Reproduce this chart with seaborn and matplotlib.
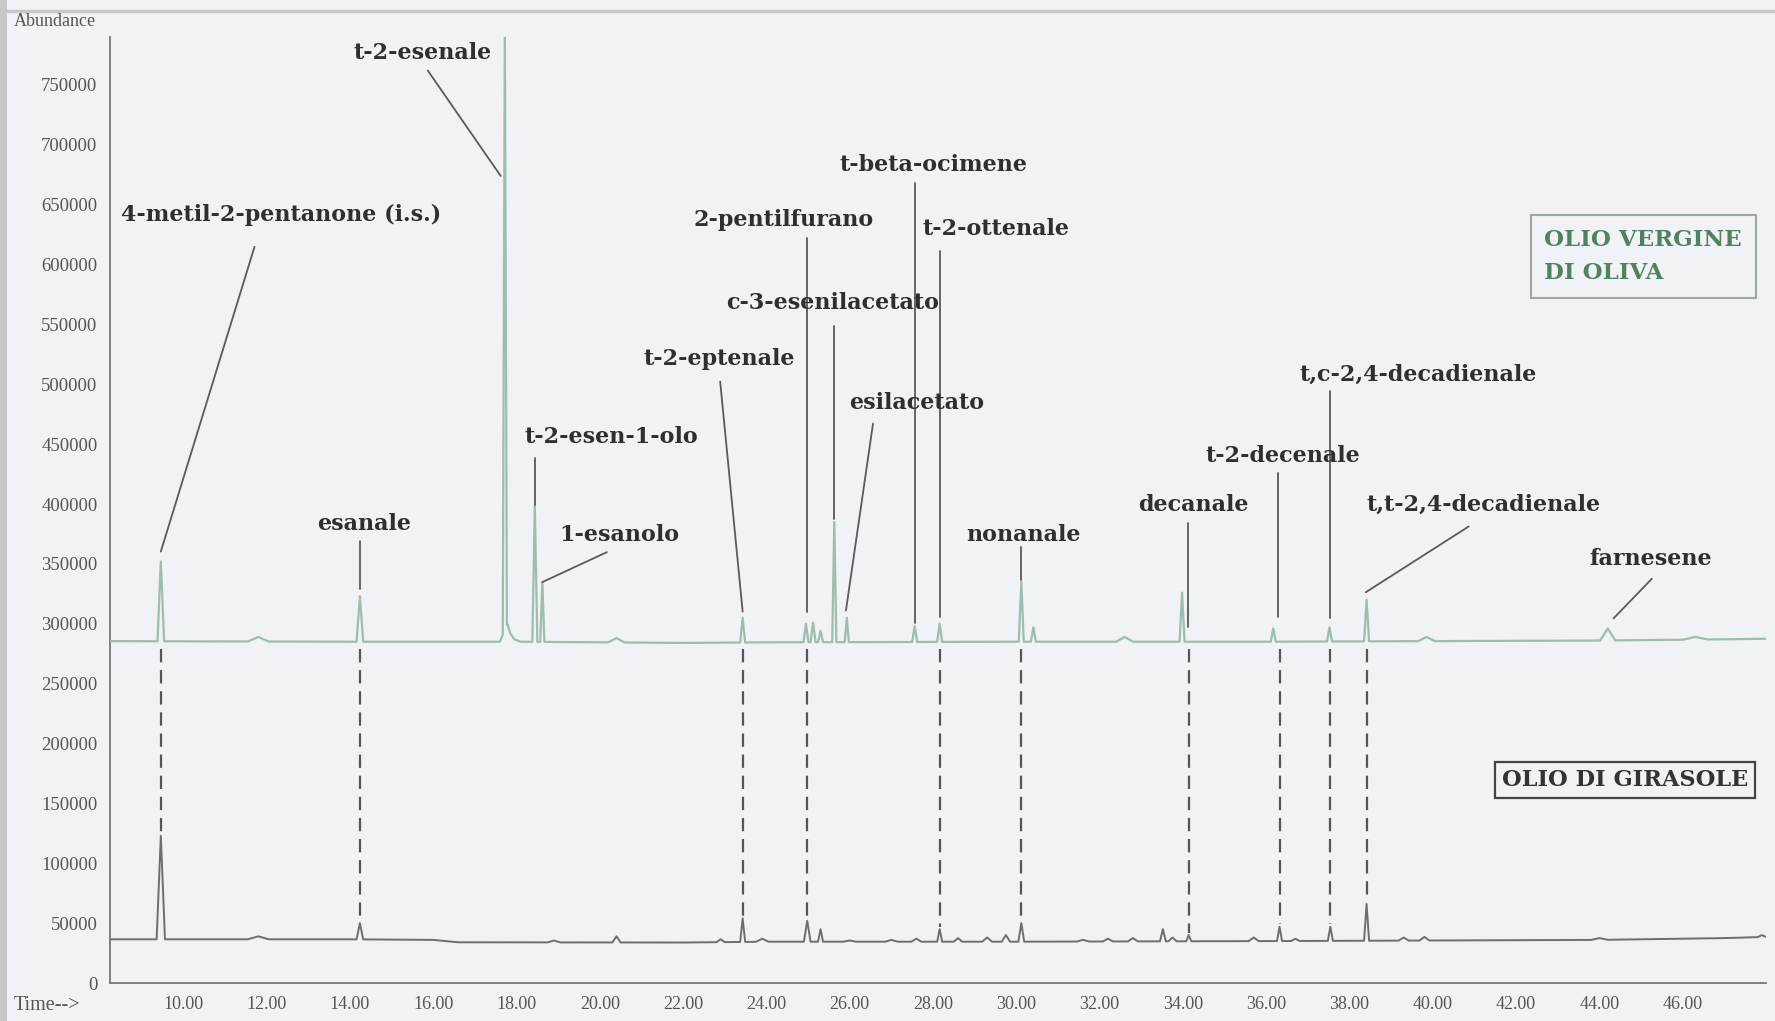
import numpy as np
import pandas as pd
import matplotlib
matplotlib.use("Agg")
import matplotlib.pyplot as plt
import seaborn as sns
from matplotlib.ticker import MultipleLocator, FixedLocator, FuncFormatter
from matplotlib.lines import Line2D

# ------------------------------------------------------------------ data
# baseline (trace between peaks)
olive_base_times = [8.0, 14.0, 16.0, 17.6, 17.78, 17.85, 17.95, 18.1, 22.0, 24.0, 30.0, 36.0, 40.0, 44.0, 47.0, 48.0]
olive_base_values = [285500, 285000, 285000, 285000, 300000, 292000, 287000, 285000, 284000, 284500, 285000, 285000, 285500, 286000, 287000, 287500]
girasole_base_times = [8.0, 14.0, 16.0, 16.6, 22.0, 24.0, 30.0, 36.0, 40.0, 44.0, 47.0, 48.0]
girasole_base_values = [36500, 36500, 36000, 34000, 33800, 34500, 34500, 35000, 35500, 36000, 37500, 38500]

# peaks: retention time (min) and apex abundance
olive_peak_times = [9.46, 11.8, 14.24, 17.72, 18.44, 18.62, 20.4, 23.43, 24.95, 25.12, 25.3,
                    25.63, 25.93, 27.56, 28.16, 30.12, 30.41, 32.6, 33.98, 36.17, 37.52,
                    38.41, 39.85, 44.2, 46.3]
olive_peak_heights = [352000, 289000, 323000, 800000, 399000, 335000, 288000, 305000, 300000, 301000, 294000,
                      385000, 305000, 298000, 300000, 335000, 297000, 289000, 326000, 296000, 297000,
                      320000, 289000, 296000, 289000]

girasole_peak_times = [9.46, 11.8, 14.24, 18.9, 20.4, 22.9, 23.43, 23.9, 24.98, 25.3, 26.0, 27.0,
                       27.6, 28.16, 28.6, 29.3, 29.75, 30.12, 31.6, 32.2, 32.8, 33.52, 33.75,
                       34.14, 35.7, 36.32, 36.7, 37.54, 38.41, 39.3, 39.8, 44.0, 47.9]
girasole_peak_heights = [123000, 39000, 50000, 35500, 39000, 36500, 54000, 37000, 52000, 45000, 35500, 36000,
                         37000, 45000, 37500, 38000, 40000, 50000, 36000, 37000, 37500, 45000, 38000,
                         40000, 38000, 47000, 37000, 47000, 66000, 38000, 38500, 37500, 40000]

# compounds shared by both oils (dashed connectors)
shared_times = [9.46, 14.24, 23.43, 24.98, 28.16, 30.12, 34.14, 36.32, 37.54, 38.41]

# peak labels: text, label position, leader line start and end (data coords)
labels = [
    ("4-metil-2-pentanone (i.s.)", 12.34, 641300, 11.71, 614800, 9.46, 360300),
    ("t-2-esenale", 15.74, 776600, 15.87, 762000, 17.62, 674000),
    ("esanale", 14.35, 383000, 14.24, 368900, 14.24, 329100),
    ("t-2-esen-1-olo", 20.28, 455900, 18.44, 438300, 18.44, 399100),
    ("1-esanolo", 20.47, 374500, 20.17, 359800, 18.62, 334800),
    ("t-2-eptenale", 22.86, 521100, 22.89, 502200, 23.43, 310200),
    ("2-pentilfurano", 24.41, 637500, 24.98, 622300, 24.98, 310200),
    ("c-3-esenilacetato", 25.58, 567500, 25.63, 548600, 25.63, 387800),
    ("esilacetato", 27.62, 484200, 26.56, 467200, 25.91, 311100),
    ("t-beta-ocimene", 28.0, 682900, 27.56, 667700, 27.56, 300800),
    ("t-2-ottenale", 29.52, 629900, 28.16, 611000, 28.16, 305500),
    ("nonanale", 30.17, 374500, 30.12, 364100, 30.12, 336700),
    ("decanale", 34.25, 399100, 34.13, 384000, 34.13, 297000),
    ("t-2-decenale", 36.40, 439800, 36.29, 425600, 36.29, 305500),
    ("t,c-2,4-decadienale", 39.64, 507900, 37.52, 494700, 37.52, 304500),
    ("t,t-2,4-decadienale", 41.21, 399100, 40.86, 381200, 38.39, 326300),
    ("farnesene", 45.24, 353700, 45.26, 337600, 44.34, 304500),
]

y_ticks = list(range(0, 750001, 50000))
x_ticks = [10, 12, 14, 16, 18, 20, 22, 24, 26, 28, 30, 32, 34, 36, 38, 40, 42, 44, 46]

# ------------------------------------------------------------------ style
olive_half_widths = [0.08, 0.25, 0.08, 0.05, 0.06, 0.05, 0.2, 0.06, 0.06, 0.06, 0.06,
                     0.05, 0.05, 0.06, 0.06, 0.06, 0.06, 0.2, 0.06, 0.06, 0.06,
                     0.06, 0.2, 0.18, 0.3]
girasole_half_widths = [0.1, 0.25, 0.08, 0.15, 0.1, 0.1, 0.06, 0.15, 0.08, 0.06, 0.15, 0.15,
                        0.12, 0.06, 0.1, 0.12, 0.1, 0.07, 0.15, 0.12, 0.12, 0.07, 0.1,
                        0.06, 0.12, 0.06, 0.1, 0.06, 0.06, 0.12, 0.12, 0.2, 0.1]

BG = "#f1f2f5"
OLIVE_COL = "#9dbdad"
GIRA_COL = "#6e6e6e"
LEAD_COL = "#5a5a5a"
TEXT_COL = "#2f2f2f"
LABEL_SIZE = 16


def build_trace(bt, bv, pt, ph, pw):
    xs, ys = [], []
    spans = [(t - w, t + w) for t, w in zip(pt, pw)]
    for x, v in zip(bt, bv):
        if not any(a < x < b for a, b in spans):
            xs.append(x)
            ys.append(v)
    for t, h, w in zip(pt, ph, pw):
        for x in (t - w, t + w):
            xs.append(x)
            ys.append(float(np.interp(x, bt, bv)))
        xs.append(t)
        ys.append(h)
    order = np.argsort(xs, kind="stable")
    return pd.DataFrame({"time": np.array(xs)[order], "abundance": np.array(ys)[order]})


olive_df = build_trace(olive_base_times, olive_base_values, olive_peak_times, olive_peak_heights, olive_half_widths)
gira_df = build_trace(girasole_base_times, girasole_base_values, girasole_peak_times, girasole_peak_heights, girasole_half_widths)

sns.set_theme(style="white")
plt.rcParams["font.family"] = ["DejaVu Serif", "DejaVu Sans"]

fig = plt.figure(figsize=(17.75, 10.21), dpi=100, facecolor=BG)
ax = fig.add_axes([110 / 1775, 1 - 983 / 1021, 1656 / 1775, (983 - 37) / 1021])
ax.set_facecolor(BG)

# dashed connectors between the two traces
for t in shared_times:
    idx = int(np.argmin(np.abs(np.array(girasole_peak_times) - t)))
    ax.plot([t, t], [279000, girasole_peak_heights[idx] + 2000], color="#555555",
            lw=1.6, linestyle=(0, (6, 3.5)), zorder=2)

sns.lineplot(data=gira_df, x="time", y="abundance", ax=ax, color=GIRA_COL, lw=1.4,
             sort=False, estimator=None, zorder=3)
sns.lineplot(data=olive_df, x="time", y="abundance", ax=ax, color=OLIVE_COL, lw=1.6,
             sort=False, estimator=None, zorder=3)

for txt, tx, ty, x0, y0, x1, y1 in labels:
    ax.plot([x0, x1], [y0, y1], color=LEAD_COL, lw=1.3, zorder=4)
    ax.text(tx, ty, txt, ha="center", va="center", fontsize=LABEL_SIZE, fontweight="bold",
            color=TEXT_COL, family="DejaVu Serif", zorder=5)

ax.text(42.68, 606500, "OLIO VERGINE\nDI OLIVA", ha="left", va="center", fontsize=16.5,
        fontweight="bold", color="#4f8262", family="DejaVu Serif", linespacing=1.65,
        bbox=dict(boxstyle="square,pad=0.6", facecolor=BG, edgecolor="#9aaaa2", lw=1.5), zorder=6)
ax.text(41.66, 169500, "OLIO DI GIRASOLE", ha="left", va="center", fontsize=16.2,
        fontweight="bold", color="#333333", family="DejaVu Serif",
        bbox=dict(boxstyle="square,pad=0.3", facecolor=BG, edgecolor="#444444", lw=1.6), zorder=6)

ax.set_xlim(8.24, 48)
ax.set_ylim(0, 790000)
ax.set_xlabel("")
ax.set_ylabel("")
ax.yaxis.set_major_locator(FixedLocator(y_ticks))
ax.yaxis.set_major_formatter(FuncFormatter(lambda v, p: f"{int(v)}"))
ax.xaxis.set_major_locator(FixedLocator(x_ticks))
ax.xaxis.set_major_formatter(FuncFormatter(lambda v, p: f"{v:.2f}"))
ax.xaxis.set_minor_locator(MultipleLocator(0.2))
for s in ("top", "right"):
    ax.spines[s].set_visible(False)
for s in ("left", "bottom"):
    ax.spines[s].set_color("#777777")
    ax.spines[s].set_linewidth(1.3)
ax.tick_params(axis="x", which="both", direction="in", colors="#777777", labelcolor="#555555",
               labelsize=13, pad=9)
ax.tick_params(axis="x", which="major", length=6, width=1)
ax.tick_params(axis="x", which="minor", length=4, width=0.8)
ax.tick_params(axis="y", which="major", direction="out", length=3, colors="#777777",
               labelcolor="#555555", labelsize=13.5, pad=6)
for lab in ax.get_xticklabels() + ax.get_yticklabels():
    lab.set_family("Liberation Serif")

fig.text(14 / 1775, 1 - 22 / 1021, "Abundance", ha="left", va="center", fontsize=13,
         color="#555555", family="Liberation Serif")
fig.text(14 / 1775, 1 - 1005 / 1021, "Time-->", ha="left", va="center", fontsize=14.5,
         color="#555555", family="Liberation Serif")
fig.add_artist(Line2D([0, 1], [1 - 11 / 1021, 1 - 11 / 1021], color="#c5c9cc", lw=2.5))
fig.add_artist(Line2D([3 / 1775, 3 / 1775], [0, 1], color="#c8c8c8", lw=5))

fig.savefig("out.png", dpi=100, facecolor=BG)
